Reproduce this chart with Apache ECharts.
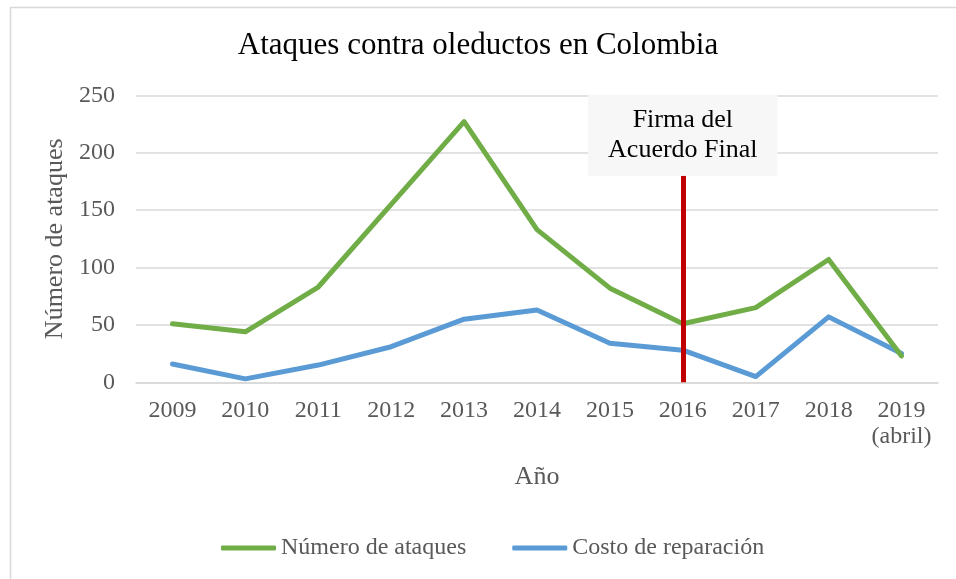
<!DOCTYPE html>
<html>
<head>
<meta charset="utf-8">
<script src="https://cdn.jsdelivr.net/npm/echarts@6/dist/echarts.min.js"></script>
<style>html,body{margin:0;padding:0;background:#fff;}#c{width:956px;height:579px;}</style>
</head>
<body>
<div id="c"></div>
<script>
const categories = ['2009','2010','2011','2012','2013','2014','2015','2016','2017','2018','2019\n(abril)'];
const ataques = [51, 44, 83, 155, 227, 133, 82, 51, 65, 107, 23];
const costo = [16, 3, 15, 31, 55, 63, 34, 28, 5, 57, 25];
const yTicks = {min: 0, max: 250, interval: 50};
const seriesNames = ['Número de ataques', 'Costo de reparación'];
const titleText = 'Ataques contra oleductos en Colombia';
const xName = 'Año';
const yName = 'Número de ataques';
const markerYear = '2016';
const markerRange = [0, 180];
const markerText = 'Firma del\nAcuerdo Final';

const FONT = '"Liberation Serif", "Times New Roman", serif';
const chart = echarts.init(document.getElementById('c'), null, {renderer: 'canvas'});
chart.setOption({
  animation: false,
  backgroundColor: '#ffffff',
  graphic: [{
    type: 'rect', left: 8, top: 5, z: -10,
    shape: {width: 1000, height: 620},
    style: {fill: 'none', stroke: '#d9d9d9', lineWidth: 1.5}
  }],
  title: {
    text: titleText, left: 'center', top: 23,
    textStyle: {fontFamily: FONT, fontSize: 31, fontWeight: 'normal', color: '#000000', lineHeight: 36}
  },
  grid: {left: 136, right: 18, top: 95.3, bottom: 196.7, containLabel: false},
  legend: {
    data: seriesNames, left: 216, top: 531, itemGap: 46, itemWidth: 55, itemHeight: 5,
    icon: 'roundRect',
    textStyle: {fontFamily: FONT, fontSize: 24, color: '#595959'}
  },
  xAxis: {
    type: 'category', data: categories, boundaryGap: true,
    name: xName, nameLocation: 'middle', nameGap: 82,
    nameTextStyle: {fontFamily: FONT, fontSize: 26, color: '#595959'},
    axisLine: {show: true, lineStyle: {color: '#d9d9d9', width: 1.5}},
    axisTick: {show: false},
    axisLabel: {fontFamily: FONT, fontSize: 24, color: '#595959', margin: 15, lineHeight: 26, interval: 0}
  },
  yAxis: {
    type: 'value', min: yTicks.min, max: yTicks.max, interval: yTicks.interval,
    name: yName, nameLocation: 'middle', nameGap: 64,
    nameTextStyle: {fontFamily: FONT, fontSize: 26, color: '#595959'},
    axisLine: {show: false}, axisTick: {show: false},
    axisLabel: {fontFamily: FONT, fontSize: 24, color: '#595959', margin: 21},
    splitLine: {lineStyle: {color: '#d9d9d9', width: 1.5}}
  },
  series: [
    {
      name: seriesNames[0], type: 'line', data: ataques, z: 4, clip: false,
      symbol: 'none', lineStyle: {color: '#70ad47', width: 5, cap: 'round', join: 'round'},
      itemStyle: {color: '#70ad47'},
      markLine: {
        symbol: 'none', silent: true, z: 10,
        lineStyle: {color: '#c00000', width: 5, type: 'solid', cap: 'butt'},
        label: {
          show: true, position: 'end', distance: 0, formatter: markerText,
          fontFamily: FONT, fontSize: 26, lineHeight: 30, color: '#000000',
          backgroundColor: '#f7f7f7', padding: [11, 20, 10, 20]
        },
        data: [[{coord: [markerYear, markerRange[0]]}, {coord: [markerYear, markerRange[1]]}]]
      }
    },
    {
      name: seriesNames[1], type: 'line', data: costo, z: 3,
      symbol: 'none', lineStyle: {color: '#5b9bd5', width: 5, cap: 'round', join: 'round'},
      itemStyle: {color: '#5b9bd5'}
    }
  ]
});
</script>
</body>
</html>
